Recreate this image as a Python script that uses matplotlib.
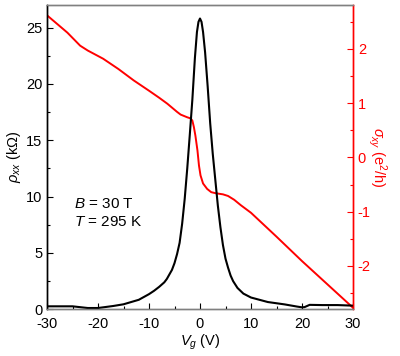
"""Recreate rho_xx / sigma_xy vs gate voltage plot."""

import matplotlib
matplotlib.use("Agg")
import matplotlib.pyplot as plt
from matplotlib.ticker import MultipleLocator

plt.rcParams["font.family"] = ["Liberation Sans", "DejaVu Sans"]
plt.rcParams["mathtext.fontset"] = "custom"
plt.rcParams["mathtext.rm"] = "Liberation Sans"
plt.rcParams["mathtext.it"] = "Liberation Sans:italic"
plt.rcParams["axes.unicode_minus"] = False
plt.rcParams["font.size"] = 10

# rho_xx (kOhm) vs gate voltage (V)
vg_rho = [-30, -25, -22, -20, -17, -15, -12, -10, -9, -8, -7, -6.5, -6, -5.5,
          -5, -4.5, -4, -3.5, -3, -2.5, -2, -1.5, -1.0, -0.6, -0.3, 0, 0.3,
          0.6, 1.0, 1.5, 2.0, 2.5, 3.0, 3.5, 4.0, 4.5, 5.0, 5.5, 6.0, 6.5,
          7.35, 8.5, 10, 13.3, 16.6, 19, 20, 20.5, 21.5, 24, 27, 30]
rho_xx = [0.27, 0.27, 0.12, 0.12, 0.3, 0.45, 0.85, 1.35, 1.65, 2.0, 2.4, 2.7,
          3.1, 3.5, 4.1, 4.9, 5.9, 7.6, 9.8, 12.5, 15.5, 18.6, 22.3, 24.6,
          25.5, 25.8, 25.5, 24.6, 22.8, 19.8, 16.5, 13.8, 11.5, 9.2, 7.3,
          5.7, 4.5, 3.7, 3.0, 2.5, 1.9, 1.4, 1.05, 0.65, 0.44, 0.25, 0.18,
          0.2, 0.4, 0.38, 0.38, 0.33]

# sigma_xy (e^2/h) vs gate voltage (V)
vg_sig = [-30, -26, -23.5, -22, -21, -19, -16, -13, -10, -8, -6.4, -4.5, -3.8,
          -2.5, -1.85, -1.5, -1.2, -0.9, -0.5, -0.2, 0.1, 0.6, 1.4, 2.2, 3.1,
          4.5, 5.5, 6.7, 8, 10, 15, 20, 25, 30]
sigma_xy = [2.62, 2.3, 2.06, 1.97, 1.92, 1.82, 1.63, 1.42, 1.23, 1.10, 0.99,
            0.84, 0.79, 0.74, 0.72, 0.68, 0.56, 0.40, 0.13, -0.15, -0.33,
            -0.48, -0.58, -0.64, -0.66, -0.68, -0.71, -0.78, -0.88, -1.02,
            -1.46, -1.91, -2.34, -2.77]

fig = plt.figure(figsize=(4.0, 3.56), dpi=100)
ax = fig.add_axes([0.1175, 0.131, 0.765, 0.855])
ax2 = ax.twinx()

ax2.plot(vg_sig, sigma_xy, color="red", linewidth=1.4)
ax.plot(vg_rho, rho_xx, color="black", linewidth=1.5)
ax.set_zorder(ax2.get_zorder() + 1)
ax.patch.set_visible(False)

ax.set_xlim(-30, 30)
ax.set_ylim(0, 27)
ax2.set_ylim(-2.8, 2.81)

ax.xaxis.set_major_locator(MultipleLocator(10))
ax.xaxis.set_minor_locator(MultipleLocator(5))
ax.yaxis.set_major_locator(MultipleLocator(5))
ax.yaxis.set_minor_locator(MultipleLocator(2.5))
ax2.yaxis.set_major_locator(MultipleLocator(1))
ax2.yaxis.set_minor_locator(MultipleLocator(0.5))

ax.tick_params(which="both", direction="in", top=False, right=False,
               labelsize=10.5)
ax.tick_params(axis="x", which="both", pad=5.5)
ax.tick_params(axis="y", which="both", pad=3.5)
ax.tick_params(which="major", length=4, width=0.8)
ax.tick_params(which="minor", length=2.5, width=0.8)
ax2.tick_params(which="both", direction="in", colors="red", labelsize=10.5,
                pad=3.5, width=0.8)
ax2.tick_params(which="major", length=4)
ax2.tick_params(which="minor", length=2.5)

for a in (ax, ax2):
    a.spines["top"].set_color("gray")
    a.spines["bottom"].set_color("gray")
    a.spines["left"].set_color("black")
    a.spines["right"].set_color("red")
    for s in a.spines.values():
        s.set_linewidth(1.0)

ax.set_xlabel(r"$V_g$ (V)", labelpad=1, fontsize=10.5)
ax.set_ylabel(r"$\rho_{xx}$ (k$\Omega$)", labelpad=2, fontsize=10.5)
ax2.set_ylabel(r"$\sigma_{xy}$ (e$^2$/h)", color="red", rotation=270,
               labelpad=13, fontsize=10.5)

ax.text(-24.8, 9.0, r"$B$ = 30 T", fontsize=11)
ax.text(-24.8, 7.4, r"$T$ = 295 K", fontsize=11)

fig.savefig("out.png", dpi=100)
